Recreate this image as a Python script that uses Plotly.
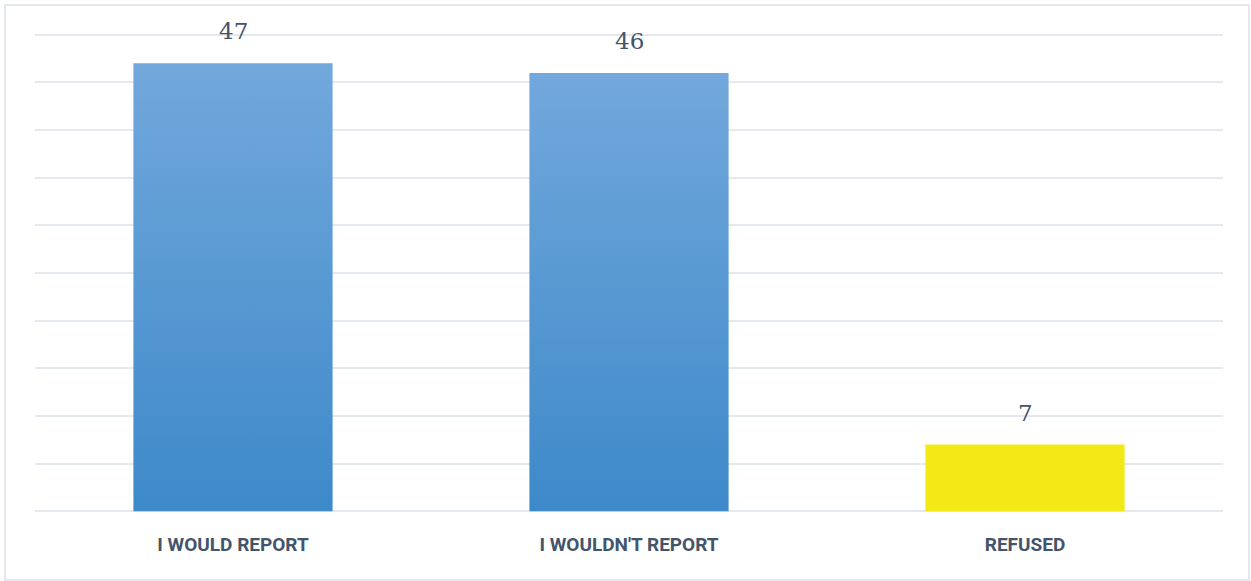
import plotly.graph_objects as go

categories = ["I WOULD REPORT", "I WOULDN'T REPORT", "REFUSED"]
values = [47, 46, 7]
top_colors = ["#72a8dc", "#72a8dc", "#f2e916"]
bottom_colors = ["#3d89c9", "#3d89c9", "#f2e916"]
y_ticks = [0, 5, 10, 15, 20, 25, 30, 35, 40, 45, 50]

bar_width = 0.503
text_color = "#44546a"
grid_color = "#e4e8ef"

fig = go.Figure()

# Bars drawn as filled shapes so each can carry a vertical gradient
for i, (cat, v) in enumerate(zip(categories, values)):
    x0, x1 = i - bar_width / 2, i + bar_width / 2
    fig.add_trace(go.Scatter(
        x=[x0, x1, x1, x0, x0],
        y=[0, 0, v, v, 0],
        mode="lines",
        line=dict(width=0),
        fill="toself",
        fillgradient=dict(
            type="vertical",
            start=0,
            stop=v,
            colorscale=[[0, bottom_colors[i]], [1, top_colors[i]]],
        ),
        hoverinfo="skip",
        showlegend=False,
    ))
    fig.add_annotation(
        x=i, y=v, text=str(v), showarrow=False,
        yanchor="bottom", yshift=17,
        font=dict(family="DejaVu Serif", size=23, color=text_color),
    )

# Outer frame
fig.add_shape(
    type="rect", xref="paper", yref="paper",
    x0=(5 - 35) / 1188, x1=(1249 - 35) / 1188,
    y0=(516 - 580) / 486, y1=(516 - 5) / 486,
    line=dict(color="#e3e7ee", width=2), layer="below",
)

fig.update_layout(
    width=1251, height=581,
    margin=dict(l=35, r=28, t=30, b=65),
    paper_bgcolor="white",
    plot_bgcolor="white",
    xaxis=dict(
        range=[-0.5, 2.5],
        tickvals=list(range(len(categories))),
        ticktext=categories,
        showgrid=False, zeroline=False, showline=False,
        ticks="",
        ticklabelstandoff=15,
        tickfont=dict(family="Roboto", size=19, color=text_color, weight="bold"),
    ),
    yaxis=dict(
        range=[-0.5, 50.5],
        tickvals=y_ticks,
        showticklabels=False,
        showgrid=True, gridcolor=grid_color, gridwidth=2,
        zeroline=True, zerolinecolor=grid_color, zerolinewidth=2,
        showline=False,
    ),
)

fig.write_html("out.html")
